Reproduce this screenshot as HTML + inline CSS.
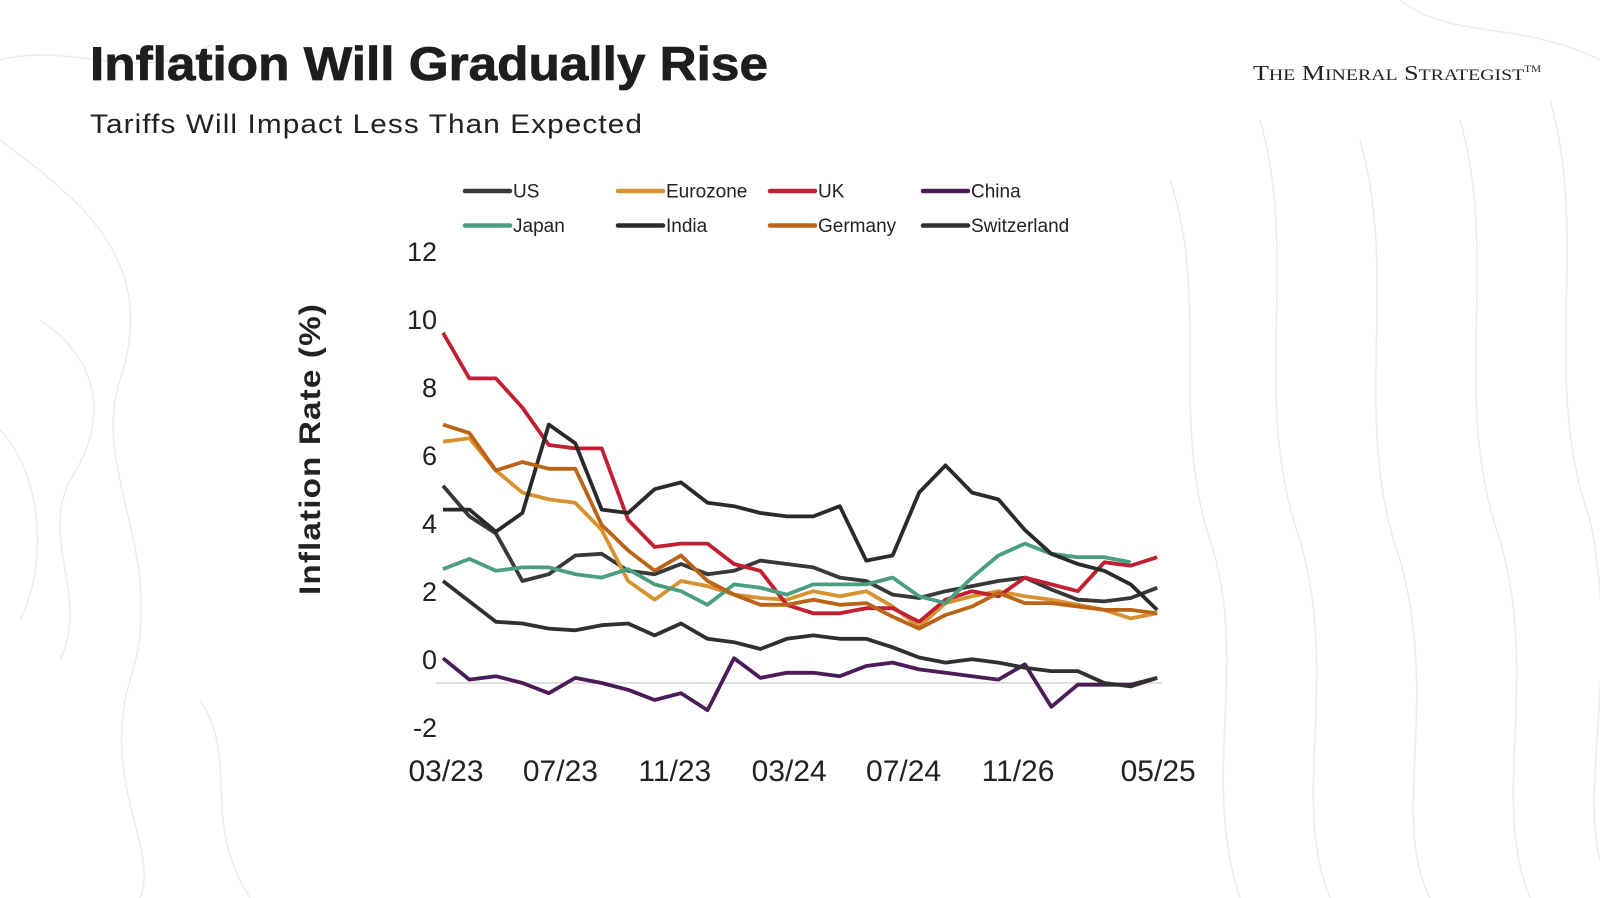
<!DOCTYPE html>
<html><head><meta charset="utf-8"><style>
html,body{margin:0;padding:0;background:#fff;}
svg{display:block;}
</style></head><body>
<svg id="chart" width="1600" height="898" viewBox="0 0 1600 898" xmlns="http://www.w3.org/2000/svg">
<rect x="0" y="0" width="1600" height="898" fill="#ffffff"/>
<g fill="none" stroke="#ececec" stroke-width="1.5">
<path d="M0,140 C80,200 160,260 120,380 C90,470 170,560 130,680 C100,780 160,850 140,898"/>
<path d="M40,320 C100,360 110,420 70,480 C40,540 90,600 60,660"/>
<path d="M0,430 C40,470 50,560 20,620"/>
<path d="M250,898 C200,820 240,760 200,700"/>
<path d="M1170,180 C1210,300 1170,420 1210,540 C1250,660 1200,780 1240,898"/>
<path d="M1260,120 C1300,260 1250,400 1300,540 C1340,680 1290,800 1330,898"/>
<path d="M1360,140 C1400,280 1350,420 1400,560 C1440,700 1390,820 1430,898"/>
<path d="M1460,120 C1500,260 1450,400 1500,540 C1540,680 1490,800 1530,898"/>
<path d="M1550,100 C1590,240 1540,380 1590,520 C1620,660 1580,780 1600,860"/>
<path d="M1400,0 C1450,40 1520,20 1600,60"/>
<path d="M0,60 C80,40 140,90 220,40"/>
</g>
<rect x="378" y="180" width="790" height="630" fill="#ffffff"/>
<text x="90" y="80" font-family="Liberation Sans, sans-serif" font-weight="bold" font-size="47" fill="#1e1e1e" stroke="#1e1e1e" stroke-width="0.8" textLength="678" lengthAdjust="spacingAndGlyphs">Inflation Will Gradually Rise</text>
<text x="90" y="133" font-family="Liberation Sans, sans-serif" font-size="27" fill="#222" textLength="553" lengthAdjust="spacingAndGlyphs" letter-spacing="1">Tariffs Will Impact Less Than Expected</text>
<text x="1253" y="80" font-family="Liberation Serif, serif" font-size="21" fill="#222" textLength="288" lengthAdjust="spacingAndGlyphs">T<tspan font-size="16">HE</tspan> M<tspan font-size="16">INERAL</tspan> S<tspan font-size="16">TRATEGIST</tspan><tspan font-size="9" dy="-8">TM</tspan></text>
<text transform="translate(320,449) rotate(-90)" text-anchor="middle" font-family="Liberation Sans, sans-serif" font-weight="bold" font-size="30" fill="#222" letter-spacing="1" textLength="292" lengthAdjust="spacingAndGlyphs">Inflation Rate (%)</text>
<line x1="436" y1="683" x2="1162" y2="683" stroke="#d6d6d6" stroke-width="1.5"/>
<g id="yticks"></g>
<g id="xticks"></g>
<g id="series"></g>
<g id="legend"></g>
</svg>
<script>
const ns = 'http://www.w3.org/2000/svg';
const months = ['03/23','04/23','05/23','06/23','07/23','08/23','09/23','10/23','11/23','12/23','01/24','02/24','03/24','04/24','05/24','06/24','07/24','08/24','09/24','10/24','11/24','12/24','01/25','02/25','03/25','04/25','05/25','06/25'];
const yTickValues = [12,10,8,6,4,2,0,-2];
const xTickLabels = ['03/23','07/23','11/23','03/24','07/24','11/26','05/25'];
const seriesNames = ['US','Eurozone','UK','China','Japan','India','Germany','Switzerland'];
const usValues = [5.8,4.9,4.4,3.0,3.2,3.75,3.8,3.3,3.2,3.5,3.2,3.3,3.6,3.5,3.4,3.1,3.0,2.6,2.5,2.7,2.85,3.0,3.1,2.75,2.45,2.4,2.5,2.8];
const eurozoneValues = [7.1,7.2,6.25,5.6,5.4,5.3,4.5,3.0,2.45,3.0,2.85,2.6,2.5,2.45,2.7,2.55,2.7,2.25,1.65,2.35,2.55,2.7,2.55,2.45,2.3,2.15,1.9,2.05];
const ukValues = [10.3,8.96,8.96,8.1,7.0,6.9,6.9,4.8,4.0,4.1,4.1,3.5,3.3,2.3,2.05,2.05,2.2,2.2,1.8,2.45,2.7,2.55,3.1,2.9,2.7,3.55,3.45,3.7];
const chinaValues = [0.73,0.1,0.2,0.0,-0.3,0.15,0.0,-0.2,-0.5,-0.3,-0.8,0.73,0.15,0.3,0.3,0.2,0.5,0.6,0.4,0.3,0.2,0.1,0.55,-0.7,-0.05,-0.05,-0.05,0.15];
const japanValues = [3.35,3.65,3.3,3.4,3.4,3.2,3.1,3.35,2.9,2.7,2.3,2.9,2.8,2.6,2.9,2.9,2.9,3.1,2.55,2.35,3.1,3.75,4.1,3.8,3.7,3.7,3.55];
const indiaValues = [5.1,5.1,4.45,5.0,7.6,7.05,5.1,5.0,5.7,5.9,5.3,5.2,5.0,4.9,4.9,5.2,3.6,3.75,5.6,6.4,5.6,5.4,4.5,3.8,3.5,3.3,2.9,2.15];
const germanyValues = [7.6,7.35,6.25,6.5,6.3,6.3,4.65,3.9,3.3,3.75,3.0,2.6,2.3,2.3,2.45,2.3,2.35,1.95,1.6,2.0,2.25,2.65,2.35,2.35,2.25,2.15,2.15,2.05];
const switzerlandValues = [3.0,2.4,1.8,1.75,1.6,1.55,1.7,1.75,1.4,1.75,1.3,1.2,1.0,1.3,1.4,1.3,1.3,1.05,0.75,0.6,0.7,0.6,0.45,0.35,0.35,0.0,-0.1,0.15];

const X0 = 443, XSTEP = 26.45, Y0 = 683, YUNIT = 34;
function xScale(i){ return X0 + i*XSTEP; }
function yScale(v){ return Y0 - v*YUNIT; }

const seriesList = [
 {name:'US', values:usValues, color:'#383838', key:'us'},
 {name:'Eurozone', values:eurozoneValues, color:'#d89230', key:'eurozone'},
 {name:'UK', values:ukValues, color:'#c21f32', key:'uk'},
 {name:'China', values:chinaValues, color:'#4b1c57', key:'china'},
 {name:'Japan', values:japanValues, color:'#4c9e80', key:'japan'},
 {name:'India', values:indiaValues, color:'#2a2a28', key:'india'},
 {name:'Germany', values:germanyValues, color:'#bb6417', key:'germany'},
 {name:'Switzerland', values:switzerlandValues, color:'#303030', key:'switzerland'}
];

const yg = document.getElementById('yticks');
yTickValues.forEach(v=>{
  const t = document.createElementNS(ns,'text');
  t.setAttribute('x', 437);
  t.setAttribute('y', yScale(v) - 23 + 9);
  t.setAttribute('text-anchor','end');
  t.setAttribute('font-family','Liberation Sans, sans-serif');
  t.setAttribute('font-size','27');
  t.setAttribute('fill','#222');
  
  
  t.textContent = String(v);
  yg.appendChild(t);
});

const xg = document.getElementById('xticks');
xTickLabels.forEach((lab,i)=>{
  const t = document.createElementNS(ns,'text');
  const x = i < xTickLabels.length-1 ? 446 + i*114.4 : xScale(months.length-1)+1;
  t.setAttribute('x', x);
  t.setAttribute('y', 781);
  t.setAttribute('text-anchor','middle');
  t.setAttribute('font-family','Liberation Sans, sans-serif');
  t.setAttribute('font-size','30');
  t.setAttribute('fill','#222');
  
  
  t.textContent = lab;
  xg.appendChild(t);
});

const sg = document.getElementById('series');
seriesList.forEach(s=>{
  const pts = s.values.map((v,i)=> xScale(i).toFixed(1)+','+yScale(v).toFixed(1)).join(' ');
  const p = document.createElementNS(ns,'polyline');
  p.setAttribute('points', pts);
  p.setAttribute('fill','none');
  p.setAttribute('stroke', s.color);
  p.setAttribute('stroke-width','3.8');
  p.setAttribute('stroke-linejoin','round');
  
  
  sg.appendChild(p);
});

const lg = document.getElementById('legend');
const legendCols = [465,618,770,923];
const legendOrder = ['us','eurozone','uk','china','japan','india','germany','switzerland'];
legendOrder.forEach((k,idx)=>{
  const s = seriesList.find(q=>q.key===k);
  const row = Math.floor(idx/4), col = idx%4;
  const x = legendCols[col], y = 191 + row*34.5;
  const g = document.createElementNS(ns,'g');
  
  
  const l = document.createElementNS(ns,'line');
  l.setAttribute('x1', x); l.setAttribute('x2', x+45);
  l.setAttribute('y1', y); l.setAttribute('y2', y);
  l.setAttribute('stroke', s.color); l.setAttribute('stroke-width','4.5');
  l.setAttribute('stroke-linecap','round');
  g.appendChild(l);
  const t = document.createElementNS(ns,'text');
  t.setAttribute('x', x+48); t.setAttribute('y', y+6.5);
  t.setAttribute('font-family','Liberation Sans, sans-serif');
  t.setAttribute('font-size','19');
  t.setAttribute('fill','#222');
  t.textContent = s.name;
  g.appendChild(t);
  lg.appendChild(g);
});
</script>
</body></html>
